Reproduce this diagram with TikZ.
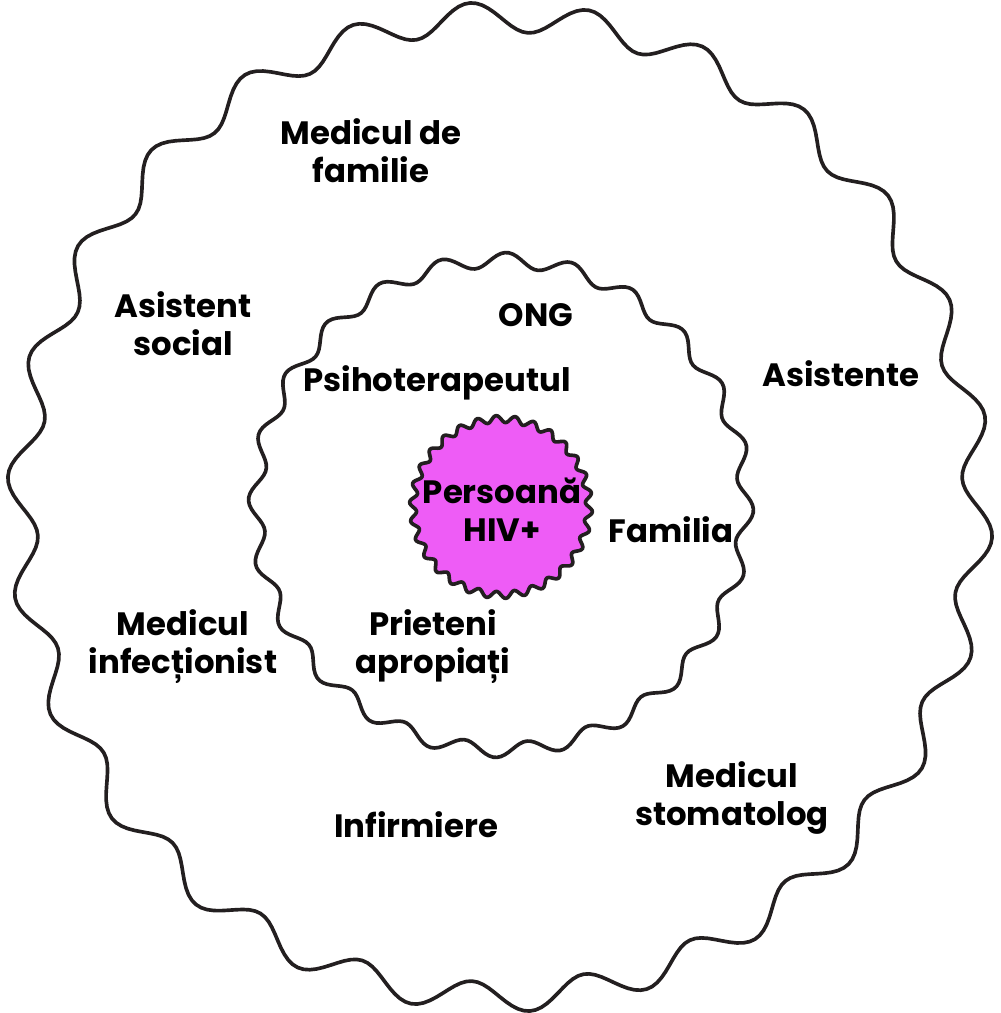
\documentclass[tikz,border=0pt]{standalone}
\usepackage{fontspec}
\setmainfont{Poppins}
\definecolor{hivpink}{HTML}{EE5CF6}
\definecolor{rim}{HTML}{231F20}

\begin{document}
\begin{tikzpicture}[x=0.025cm, y=-0.025cm,
    % conturul ondulat al cercurilor
    wavy/.style={draw=rim, line width=2.6pt, line join=round},
    % textele din inele
    ringtext/.style={font=\fontsize{23}{27}\selectfont\bfseries, align=center, text=black, inner sep=0pt}
]
    \useasboundingbox (0,0) rectangle (1000,1013);

    % cercul exterior
    \draw[wavy, shift={(500,507)}] plot[domain=0:360, samples=521, variable=\t]
        ({(478+15*sin(26*\t))*cos(\t)}, {(490+15*sin(26*\t))*sin(\t)}) -- cycle;
    % cercul interior
    \draw[wavy, shift={(501,505)}] plot[domain=0:360, samples=401, variable=\t]
        (\t:{245+7.5*sin(24*\t+60)}) -- cycle;
    % persoana din centru
    \draw[wavy, fill=hivpink, shift={(501,507)}] plot[domain=0:360, samples=361, variable=\t]
        (\t:{88+3.5*sin(30*\t)}) -- cycle;

    % inelul exterior
    \node[ringtext] (famdoc) at (371,151) {Medicul de\\familie};
    \node[ringtext] (social) at (183,324) {Asistent\\social};
    \node[ringtext] (nurses) at (841,374) {Asistente};
    \node[ringtext] (infect) at (183,647) {Medicul\\infecționist};
    \node[ringtext] (dentist) at (732,798) {Medicul\\stomatolog};
    \node[ringtext] (infirm) at (416,825) {Infirmiere};

    % inelul interior
    \node[ringtext] (ong) at (536,315) {ONG};
    \node[ringtext] (psy) at (437,383) {Psihoterapeutul};
    \node[ringtext] (family) at (671,530) {Familia};
    \node[ringtext] (friends) at (433,647) {Prieteni\\apropiați};

    % centrul
    \node[ringtext] (person) at (502,510) {Persoană\\HIV+};
\end{tikzpicture}
\end{document}
